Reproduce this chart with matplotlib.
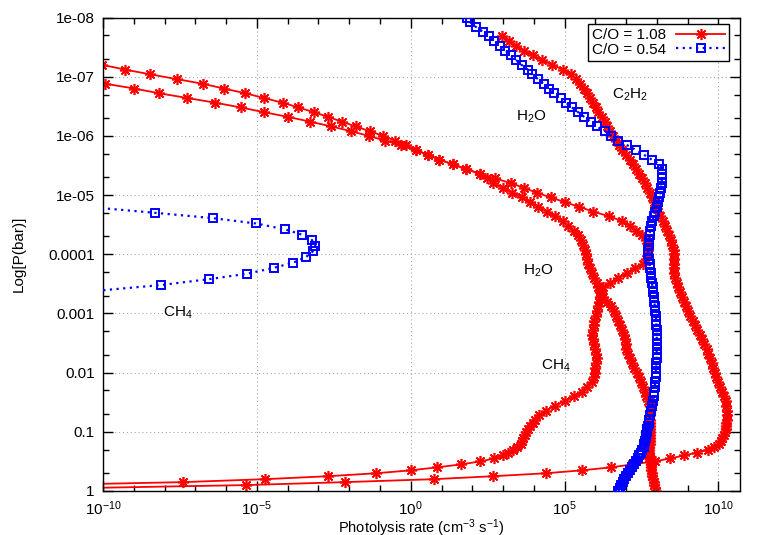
import numpy as np
import matplotlib
matplotlib.use("Agg")
import matplotlib.pyplot as plt
from matplotlib.ticker import FixedLocator, FixedFormatter, NullFormatter

plt.rcParams['font.family'] = ['Liberation Sans', 'DejaVu Sans']
plt.rcParams['mathtext.fontset'] = 'custom'
plt.rcParams['mathtext.rm'] = 'Liberation Sans'
plt.rcParams['mathtext.it'] = 'Liberation Sans:italic'
plt.rcParams['mathtext.bf'] = 'Liberation Sans:bold'

# ---- data: log10(P/bar) model levels, bottom -> top ----
log_p_levels = [
    0.00, -0.05, -0.10, -0.15, -0.20, -0.25, -0.30, -0.35, -0.40, -0.45,
    -0.50, -0.55, -0.60, -0.65, -0.70, -0.75, -0.80, -0.85, -0.90, -0.95,
    -1.00, -1.05, -1.10, -1.15, -1.20, -1.28, -1.36, -1.44, -1.52, -1.60,
    -1.68, -1.76, -1.84, -1.92, -2.00, -2.08, -2.16, -2.24, -2.32, -2.40,
    -2.48, -2.56, -2.64, -2.72, -2.80, -2.88, -2.96, -3.04, -3.12, -3.20,
    -3.28, -3.36, -3.44, -3.52, -3.60, -3.68, -3.76, -3.84, -3.92, -4.00,
    -4.08, -4.16, -4.24, -4.32, -4.40, -4.48, -4.56, -4.64, -4.72, -4.80,
    -4.88, -4.96, -5.04, -5.12, -5.20, -5.28, -5.36, -5.44, -5.52, -5.60,
    -5.68, -5.76, -5.84, -5.92, -6.00, -6.08, -6.16, -6.24, -6.32, -6.40,
    -6.48, -6.56, -6.64, -6.72, -6.80, -6.88, -6.96, -7.04, -7.12, -7.20,
    -7.28, -7.36, -7.44, -7.52, -7.60, -7.68, -7.76, -7.84, -7.92, -8.00,
]

# log10(photolysis rate), C/O = 1.08
co108_h2o_a = [
    None, None, -12.0, -7.40, -4.73, -2.68, -1.12, 0.02, 0.86, 1.64,
    2.26, 2.72, 3.01, 3.15, 3.32, 3.46, 3.58, 3.62, 3.66, 3.71,
    3.76, 3.81, 3.89, 3.96, 4.04, 4.16, 4.39, 4.70, 5.01, 5.32,
    5.57, 5.72, 5.88, 5.96, 5.98, 6.00, 6.03, 6.05, 6.03, 5.99,
    5.95, 5.91, 5.90, 5.92, 5.94, 5.97, 6.01, 6.05, 6.08, 6.11,
    6.14, 6.18, 6.26, 6.49, 6.75, 7.04, 7.29, 7.55, 7.64, 7.71,
    7.71, 7.70, 7.63, 7.51, 7.32, 7.11, 6.86, 6.45, 5.93, 5.48,
    5.01, 4.55, 4.09, 3.69, 3.26, 2.75, 2.24, 1.80, 1.36, 0.93,
    0.55, 0.17, -0.15, -0.51, -0.91, -1.34, -1.79, -2.24, -2.68, -3.15,
    -3.65, -4.16, -4.77, -5.38, -6.07, -6.76, -7.61, -8.47, -9.28, -10.03,
    -10.88, None, None, None, None, None, None, None, None, None,
]
co108_ch4 = [
    7.98, 7.95, 7.92, 7.89, 7.87, 7.84, 7.83, 7.82, 7.81, 7.80,
    7.77, 7.75, 7.74, 7.74, 7.75, 7.75, 7.76, 7.77, 7.77, 7.78,
    7.79, 7.79, 7.79, 7.79, 7.79, 7.79, 7.79, 7.78, 7.72, 7.66,
    7.61, 7.55, 7.49, 7.42, 7.35, 7.27, 7.20, 7.13, 7.05, 7.01,
    6.99, 6.96, 6.93, 6.87, 6.81, 6.74, 6.68, 6.61, 6.50, 6.38,
    6.26, 6.15, 6.10, 6.04, 5.96, 5.89, 5.81, 5.77, 5.74, 5.70,
    5.65, 5.59, 5.52, 5.44, 5.30, 5.12, 4.94, 4.68, 4.42, 4.15,
    3.87, 3.60, 3.30, 2.99, 2.68, 2.48, 2.24, 1.80, 1.36, 0.93,
    0.55, 0.17, -0.31, -0.84, -1.37, -1.95, -2.58, -3.27, -3.98, -4.77,
    -5.52, -6.35, -7.26, -8.18, -8.98, -9.92, -10.88, None, None, None,
    None, None, None, None, None, None, None, None, None, None,
]
co108_c2h2 = [
    None, -10.6, -5.36, -2.13, 0.76, 2.68, 4.40, 5.58, 6.52, 7.20,
    7.93, 8.43, 8.88, 9.30, 9.67, 9.85, 10.03, 10.09, 10.13, 10.17,
    10.20, 10.23, 10.24, 10.25, 10.27, 10.28, 10.28, 10.26, 10.23, 10.18,
    10.11, 10.05, 9.99, 9.93, 9.88, 9.83, 9.78, 9.72, 9.67, 9.62,
    9.54, 9.46, 9.39, 9.31, 9.23, 9.16, 9.09, 9.02, 8.95, 8.88,
    8.81, 8.75, 8.70, 8.65, 8.60, 8.55, 8.55, 8.56, 8.55, 8.55,
    8.54, 8.50, 8.46, 8.40, 8.34, 8.26, 8.19, 8.11, 8.04, 7.98,
    7.91, 7.85, 7.78, 7.69, 7.61, 7.52, 7.42, 7.33, 7.23, 7.12,
    7.01, 6.87, 6.76, 6.66, 6.57, 6.47, 6.39, 6.30, 6.20, 6.10,
    6.01, 5.92, 5.83, 5.73, 5.62, 5.51, 5.37, 5.20, 4.94, 4.60,
    4.27, 3.97, 3.67, 3.41, 3.18, 2.98, None, None, None, None,
]

# log10(photolysis rate), C/O = 0.54
co054_h2o = [
    6.75, 6.79, 6.84, 6.89, 6.94, 7.00, 7.07, 7.13, 7.20, 7.26,
    7.33, 7.38, 7.43, 7.48, 7.53, 7.57, 7.59, 7.61, 7.63, 7.65,
    7.67, 7.69, 7.71, 7.73, 7.75, 7.78, 7.81, 7.84, 7.87, 7.90,
    7.91, 7.93, 7.94, 7.96, 7.96, 7.97, 7.98, 7.99, 7.99, 7.99,
    7.99, 7.99, 8.00, 7.99, 7.98, 7.98, 7.96, 7.95, 7.93, 7.92,
    7.90, 7.88, 7.86, 7.84, 7.82, 7.80, 7.78, 7.76, 7.74, 7.72,
    7.72, 7.73, 7.74, 7.76, 7.78, 7.80, 7.85, 7.90, 7.95, 8.00,
    8.05, 8.08, 8.11, 8.13, 8.15, 8.16, 8.17, 8.17, 8.08, 7.83,
    7.58, 7.32, 7.04, 6.72, 6.52, 6.31, 6.04, 5.85, 5.64, 5.44,
    5.24, 5.05, 4.88, 4.67, 4.48, 4.32, 4.13, 3.95, 3.80, 3.60,
    3.43, 3.26, 3.07, 2.89, 2.71, 2.53, 2.35, 2.12, 1.93, 1.82,
]
co054_ch4_logp = [-4.80, -4.70, -4.61, -4.52, -4.42, -4.33, -4.24, -4.14,
                  -4.05, -3.95, -3.86, -3.77, -3.67, -3.58, -3.48, -3.38]
co054_ch4 = [-10.49, -8.31, -6.43, -5.03, -4.08, -3.53, -3.21, -3.10,
             -3.18, -3.41, -3.81, -4.45, -5.33, -6.54, -8.11, -10.26]

x_major_ticks = [1e-10, 1e-5, 1e0, 1e5, 1e10]
x_major_labels = [r'$10^{-10}$', r'$10^{-5}$', r'$10^{0}$', r'$10^{5}$', r'$10^{10}$']
y_major_ticks = [1e-8, 1e-7, 1e-6, 1e-5, 1e-4, 1e-3, 1e-2, 1e-1, 1e0]
y_major_labels = ['1e-08', '1e-07', '1e-06', '1e-05', '0.0001', '0.001', '0.01', '0.1', '1']

species_labels = ['H$_2$O', 'C$_2$H$_2$', 'H$_2$O', 'CH$_4$', 'CH$_4$']
species_label_logx = [3.93, 7.14, 4.14, 4.73, -7.57]
species_label_logp = [-6.32, -6.70, -3.72, -2.11, -3.01]

series_labels = ['C/O = 1.08', 'C/O = 0.54']

# ---- figure ----
fig = plt.figure(figsize=(7.64, 5.35), dpi=100)
ax = fig.add_axes([103 / 764, 1 - 491 / 535, 637 / 764, 473.5 / 535])

P = 10.0 ** np.array(log_p_levels, dtype=float)

def rate(vals):
    return 10.0 ** np.array(vals, dtype=float)

red = '#ff0000'
blue = '#0000ff'
red_kw = dict(color=red, linestyle='-', linewidth=1.3, marker=(8, 2, 0),
              markersize=8, markeredgewidth=1.2, zorder=2, clip_on=True)
blue_kw = dict(color=blue, linestyle=(0, (1, 2)), linewidth=1.6, marker='s',
               markersize=5.5, markerfacecolor='none', markeredgewidth=1.4,
               markeredgecolor=blue, zorder=3, clip_on=True)

ax.plot(rate(co108_h2o_a), P, label=series_labels[0], **red_kw)
ax.plot(rate(co108_ch4), P, **red_kw)
ax.plot(rate(co108_c2h2), P, **red_kw)
ax.plot(rate(co054_h2o), P, label=series_labels[1], **blue_kw)
ax.plot(rate(co054_ch4), 10.0 ** np.array(co054_ch4_logp), **blue_kw)

ax.set_xscale('log')
ax.set_yscale('log')
ax.set_xlim(1e-10, 5e10)
ax.set_ylim(1e0, 1e-8)

ax.xaxis.set_major_locator(FixedLocator(x_major_ticks))
ax.xaxis.set_major_formatter(FixedFormatter(x_major_labels))
ax.xaxis.set_minor_locator(FixedLocator([10.0 ** k for k in range(-10, 11)]))
ax.xaxis.set_minor_formatter(NullFormatter())
ax.yaxis.set_major_locator(FixedLocator(y_major_ticks))
ax.yaxis.set_major_formatter(FixedFormatter(y_major_labels))
ax.yaxis.set_minor_locator(FixedLocator([m * 10.0 ** k for k in range(-8, 0) for m in (2, 5)]))
ax.yaxis.set_minor_formatter(NullFormatter())

ax.tick_params(which='both', direction='in', top=True, right=True, labelsize=11, width=1)
ax.tick_params(which='major', length=7)
ax.tick_params(which='minor', length=4)
ax.tick_params(axis='x', pad=6)
ax.tick_params(axis='y', pad=6)
for s in ax.spines.values():
    s.set_linewidth(1.0)

ax.grid(True, which='major', color='#a8a8a8', linestyle=(0, (1, 2.5)), linewidth=0.8)
ax.set_axisbelow(True)

for txt, lx, lp in zip(species_labels, species_label_logx, species_label_logp):
    ax.text(10.0 ** lx, 10.0 ** lp, txt, fontsize=11, ha='center', va='center', zorder=5)

ax.set_xlabel('Photolysis rate (cm$^{-3}$ s$^{-1}$)', fontsize=10.5)
ax.xaxis.set_label_coords(0.5, -0.055)
ax.set_ylabel('Log[P(bar)]', fontsize=11, labelpad=16)

leg = ax.legend(loc='upper right', bbox_to_anchor=(0.983, 0.986), borderaxespad=0,
                markerfirst=False, fontsize=11, handlelength=3.2, handletextpad=0.7,
                labelspacing=0.05, borderpad=0.25, numpoints=1, fancybox=False,
                framealpha=1, edgecolor='black')
leg.get_frame().set_linewidth(1.0)

fig.savefig('out.png', dpi=100)
